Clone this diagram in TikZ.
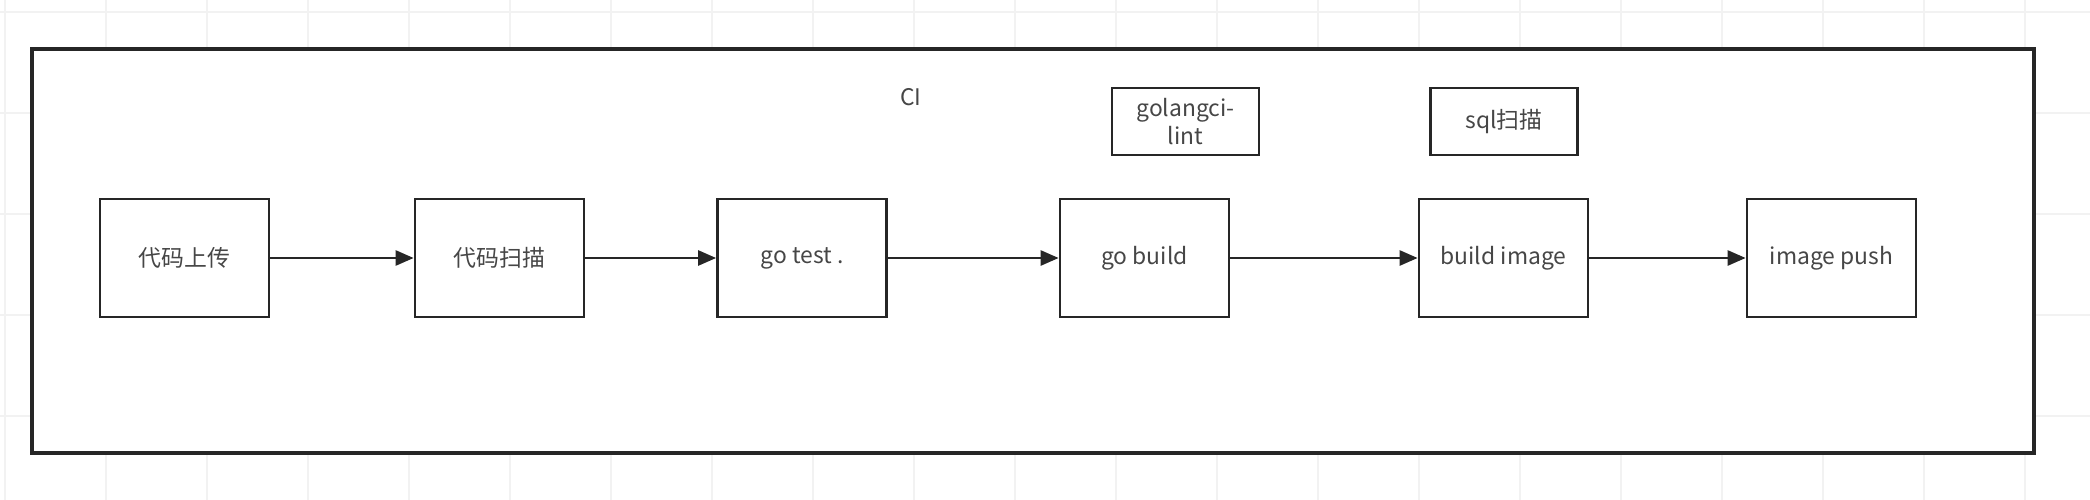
\documentclass[tikz,border=0pt]{standalone}
\usepackage{fontspec}
\setmainfont{Noto Sans CJK SC}
\usepackage{xcolor}
\usepackage{tikz}
\usetikzlibrary{arrows.meta, positioning, calc}
\definecolor{gridline}{RGB}{242, 242, 242}
\definecolor{textgray}{RGB}{70, 70, 70}

\begin{document}
\begin{tikzpicture}[x=0.01cm, y=-0.01cm,
    stage/.style={draw=black!85, line width=0.75pt, fill=white, minimum width=1.69cm, minimum height=1.18cm, inner sep=0pt, text=textgray, font=\fontsize{6.5pt}{8.2pt}\selectfont},
    tool/.style={stage, minimum width=1.47cm, minimum height=0.67cm, align=center},
    flow/.style={-{Triangle[length=0.18cm, width=0.15cm]}, line width=0.75pt, draw=black!85}]
    \useasboundingbox (0,0) rectangle (2090,500);
    \fill[white] (0,0) rectangle (2090,500);

    % Background grid
    \foreach \x in {5,106,...,2090}
        \draw[gridline, line width=0.5pt] (\x,0) -- (\x,500);
    \foreach \y in {12,113,...,500}
        \draw[gridline, line width=0.5pt] (0,\y) -- (2090,\y);

    % CI container
    \draw[black!85, line width=0.9pt, fill=white] (32,49) rectangle (2034,453);
    \node[text=textgray, font=\fontsize{6.5pt}{7.7pt}\selectfont] (ci) at (911,97) {CI};

    % Pipeline stages
    \node[stage] (upload) at (184.5,258) {代码上传};
    \node[stage] (scan) at (499.5,258) {代码扫描};
    \node[stage] (test) at (802,258) {go test .};
    \node[stage] (build) at (1144.5,258) {go build};
    \node[stage] (image) at (1503.5,258) {build image};
    \node[stage] (push) at (1831.5,258) {image push};

    % Checks above the stages
    \node[tool] (lint) at (1185.5,121.5) {golangci-\\lint};
    \node[tool] (sql) at (1504,121.5) {sql扫描};

    % Arrows
    \draw[flow] (upload) -- (scan);
    \draw[flow] (scan) -- (test);
    \draw[flow] (test) -- (build);
    \draw[flow] (build) -- (image);
    \draw[flow] (image) -- (push);

\end{tikzpicture}
\end{document}
